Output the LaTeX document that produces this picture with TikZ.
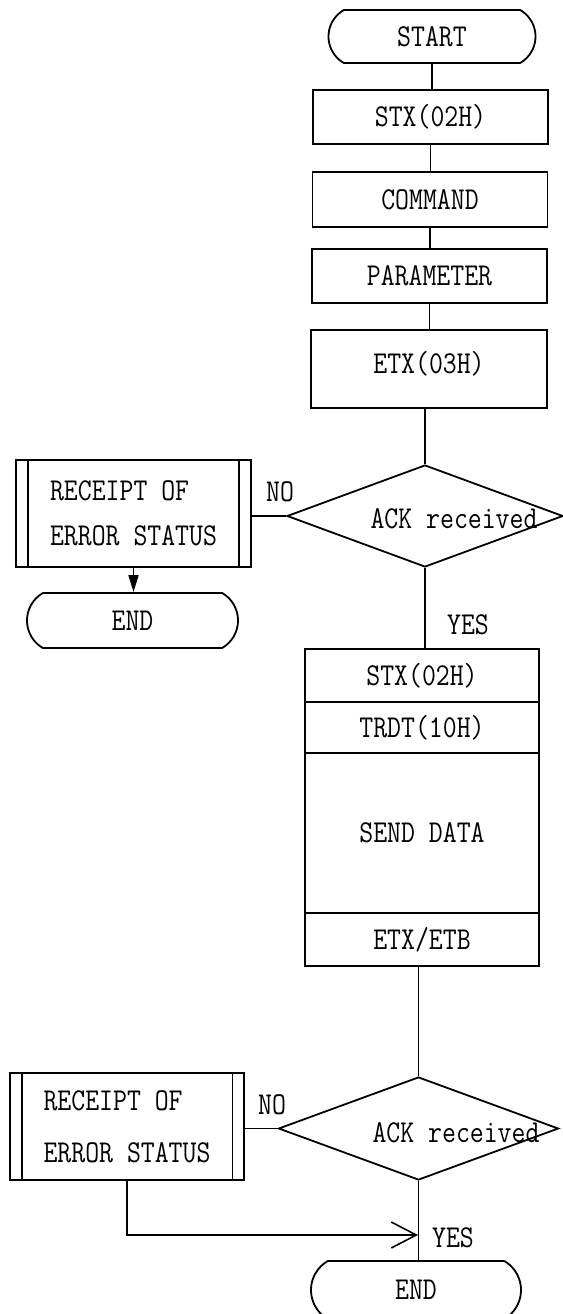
\documentclass[tikz,border=0pt]{standalone}
\usepackage{fontspec}
\usepackage{graphicx}
\newfontfamily\flowfont{Latin Modern Mono}
\usetikzlibrary{shapes.geometric,shapes.misc,arrows.meta}
% tall, narrow lettering for all labels
\newcommand{\tall}[1]{\scalebox{1}[1.18]{#1}}

\begin{document}
\begin{tikzpicture}[x=1pt,y=-1pt,
  every node/.style={font=\flowfont\fontsize{27}{30}\selectfont, inner sep=0pt},
  shape line/.style={line width=1.8pt},
  link/.style={line width=1.6pt},
  stepbox/.style={draw, shape line, rectangle, minimum width=235pt},
  terminal/.style={draw, shape line, rounded rectangle, rounded rectangle arc length=120},
  decision/.style={draw, shape line, diamond},
  twoline/.style={align=left, font=\flowfont\fontsize{27}{#1}\selectfont},
]
\useasboundingbox (0,0) rectangle (562,1314);

% ---- command telegram ----
\node[terminal, minimum width=207pt, minimum height=53pt] (start) at (432,36.5) {\tall{START}};
\node[stepbox, minimum height=54pt] (stx) at (430.5,117) {\tall{STX(02H)}};
\node[stepbox, minimum height=55pt] (cmd) at (430,199.5) {\tall{COMMAND}};
\node[stepbox, minimum height=54pt] (par) at (429.5,276) {\tall{PARAMETER}};
\node[stepbox, minimum width=236pt, minimum height=78pt] (etx) at (429,369) {\raisebox{14pt}{\tall{ETX(03H)}}};

% ---- first acknowledgement check ----
\node[decision, minimum width=276pt, minimum height=102pt] (ack1) at (425,516) {};
\node (ack1txt) at (454,519) {\tall{ACK received}};
\node[stepbox, minimum width=235pt, minimum height=107pt, twoline=45] (err1) at (133.5,513.5)
  {\tall{RECEIPT OF}\\\tall{ERROR STATUS}};
\draw[shape line] ([xshift=13pt]err1.north west) -- ([xshift=13pt]err1.south west);
\draw[shape line] ([xshift=-13pt]err1.north east) -- ([xshift=-13pt]err1.south east);
\node[terminal, minimum width=211pt, minimum height=55pt] (end1) at (132.5,620.5) {\tall{END}};
\node (no1) at (280,492) {\tall{NO}};
\node (yes1) at (468,625) {\tall{YES}};

% ---- data telegram ----
\node[stepbox, minimum width=234pt, minimum height=53pt] (stx2) at (422,675.5) {\tall{STX(02H)}};
\node[stepbox, minimum width=234pt, minimum height=51pt] (trdt) at (422,727.5) {\tall{TRDT(10H)}};
\node[stepbox, minimum width=234pt, minimum height=160pt] (send) at (422,833) {\tall{SEND DATA}};
\node[stepbox, minimum width=234pt, minimum height=53pt] (etb) at (422,939.5) {\tall{ETX/ETB}};

% ---- second acknowledgement check ----
\node[decision, minimum width=280pt, minimum height=103pt] (ack2) at (418.5,1128.5) {};
\node (ack2txt) at (456,1133) {\tall{ACK received}};
\node[stepbox, minimum width=234pt, minimum height=107pt, twoline=52] (err2) at (127,1126.5)
  {\tall{RECEIPT OF}\\\tall{ERROR STATUS}};
\draw[shape line] ([xshift=12.5pt]err2.north west) -- ([xshift=12.5pt]err2.south west);
\draw[shape line] ([xshift=-12.5pt]err2.north east) -- ([xshift=-12.5pt]err2.south east);
\node[terminal, minimum width=210pt, minimum height=58pt] (end2) at (416,1290) {\tall{END}};
\node (no2) at (272,1105) {\tall{NO}};
\node (yes2) at (453,1238) {\tall{YES}};
\coordinate (merge) at (418,1235);

% ---- connectors ----
\draw[link] (start.south) -- (start.south |- stx.north);
\draw[link] (stx.south) -- (stx.south |- cmd.north);
\draw[link] (cmd.south) -- (cmd.south |- par.north);
\draw[link] (par.south) -- (par.south |- etx.north);
\draw[link] (ack1.north |- etx.south) -- (ack1.north);
\draw[link] (ack1.west -| err1.east) -- (ack1.west);
\draw[link, -{Triangle[length=17pt,width=10pt]}] (err1.south) -- (err1.south |- end1.north);
\draw[link] (ack1.south) -- (ack1.south |- stx2.north);
\draw[link] (ack2.north |- etb.south) -- (ack2.north);
\draw[link] (ack2.west -| err2.east) -- (ack2.west);
\draw[link] (ack2.south) -- (ack2.south |- end2.north);
\draw[link, -{Straight Barb[length=25pt,width=26pt]}] (err2.south) |- (merge);
\end{tikzpicture}
\end{document}
